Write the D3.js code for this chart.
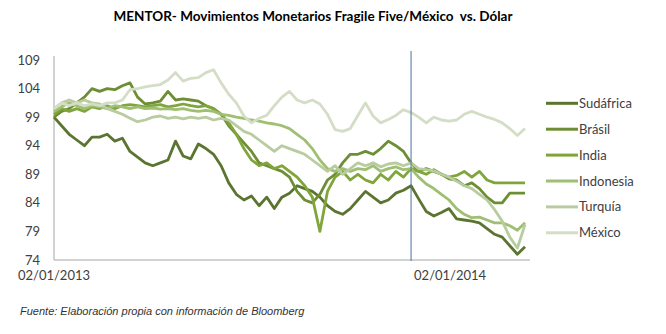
<!DOCTYPE html>
<html>
<head>
<meta charset="utf-8">
<script src="https://cdn.jsdelivr.net/npm/d3@7"></script>
<style>
  body { margin: 0; background: #fff; }
  svg { display: block; }
</style>
</head>
<body>
<svg id="chart"></svg>
<script>
// Weekly index values (currency vs. dollar)
const names = ["Sudáfrica", "Brásil", "India", "Indonesia", "Turquía", "México"];
const colors = ["#5b7530", "#6d8e35", "#7fa53b", "#9fbf72", "#b9cca0", "#d4ddc6"];

const sudafrica = [99, 97.5, 96, 95, 94, 95.5, 95.5, 96, 94.8, 95.3, 93, 92, 91, 90.5, 91, 91.5, 94.8, 92.2, 91.7, 94.3,
  93.5, 92.5, 90.5, 87.5, 85.5, 84.5, 85.2, 83.5, 85, 83, 85, 85.7, 87, 86.5, 86, 85, 83.5, 82.5, 82, 83,
  84.5, 86, 85, 84, 84.5, 85.7, 86.2, 87, 84.7, 82.5, 81.7, 82.3, 83, 81.2, 81, 80.8, 80.5, 79.5, 78.5, 78,
  76.5, 75, 76.3];
const brasil = [99, 100, 100.5, 101.5, 102.5, 104, 103.5, 104, 103.8, 104.5, 105, 102.5, 101.3, 101.5, 101.8, 103.5, 102, 102.2, 102, 101.8,
  101, 100.5, 99.5, 97.5, 96, 94.5, 93, 91, 90.5, 90, 89.5, 88.5, 86, 84.5, 84, 85.5, 88, 89, 91, 92.5,
  92.5, 93, 92.5, 93.5, 94.8, 94, 93, 91, 89.5, 90, 89.5, 89, 88.2, 88, 87, 87.5, 86.5, 85, 84, 84,
  85.7, 85.7, 85.7];
const india = [99.5, 100.5, 100, 100.5, 100, 100.8, 100.5, 101, 100.5, 101, 101.2, 101, 100.8, 101, 101.2, 100.8, 101, 101.3, 101, 100.8,
  101, 100.5, 99.5, 98, 96, 93.5, 91.5, 90.5, 91, 90, 90.5, 89.5, 88.5, 87, 85, 79, 86, 88.5, 89.5, 88,
  89, 88, 87.5, 89, 88, 89.5, 88.5, 90, 89.5, 89, 89.8, 89, 88.5, 88.8, 89.5, 88.5, 89.5, 88, 87.5, 87.5,
  87.5, 87.5, 87.5];
const indonesia = [100, 100.8, 101.5, 101, 100.5, 101, 100.8, 100.5, 101, 100.8, 100.5, 100.8, 100.5, 100.6, 100.4, 100.5, 100.3, 100.5, 100.2, 100,
  100.2, 100, 99.5, 99.3, 99, 98.8, 98.5, 98.3, 98, 97.8, 97.5, 97, 96, 95, 93.5, 91.5, 90, 89.5, 90, 89.5,
  90, 89.8, 90.5, 89.5, 90, 90.3, 89.8, 90, 88.5, 87.3, 86.5, 85.5, 84.5, 83, 82, 81.4, 81.5, 81, 80.5, 80.5,
  80, 79.2, 80.5];
const turquia = [100.5, 101.5, 102, 101.5, 102, 101.5, 101.3, 100.5, 100, 99.5, 98.8, 98.2, 98.5, 99, 99.2, 98.8, 99, 98.7, 99, 98.8,
  99, 98.5, 98.8, 98.5, 97.5, 96.5, 96, 95, 94, 93, 94, 93.5, 93, 92.5, 91.5, 90.5, 89.5, 90.5, 89, 90,
  91, 90.5, 91, 90.3, 90.8, 91, 90.5, 91, 90, 89.8, 89.6, 89, 88.5, 87.8, 87, 86.5, 85.5, 84.5, 82.8, 80.8,
  78, 76.1, 80.2];
const mexico = [100.5, 101.5, 101, 101.5, 101, 101.3, 101, 101.5, 101.5, 102, 103.8, 104, 104.3, 104.5, 104.7, 105.5, 106.8, 105.3, 105.8, 105.9,
  106.8, 107.3, 105, 103, 101.5, 99.2, 98, 98.8, 99.3, 101, 102.5, 103.5, 102, 101.5, 102, 101.3, 99.5, 96.8, 96.5, 97,
  99.3, 101.5, 99.2, 98, 98.6, 99.3, 100.3, 99.8, 99, 98, 99, 98.5, 98.3, 98.5, 99.5, 100, 99.5, 99, 98.6, 98,
  97, 95.8, 97];

const yTicks = [74, 79, 84, 89, 94, 99, 104, 109];
const xTickLabels = ["02/01/2013", "02/01/2014"];
const xTickDates = ["2013-01-02", "2014-01-02"];
const markerDate = "2013-11-27";
const startDate = "2013-01-02";

const series = [sudafrica, brasil, india, indonesia, turquia, mexico];

const width = 666, height = 334;
const parse = d3.timeParse("%Y-%m-%d");
const start = parse(startDate);
const dates = d3.range(sudafrica.length).map(i => d3.timeDay.offset(start, 7 * i));

const svg = d3.select("#chart").attr("width", width).attr("height", height);
svg.append("rect").attr("width", width).attr("height", height).attr("fill", "#fff");

const x = d3.scaleTime()
    .domain([start, dates[dates.length - 1]])
    .range([54, 525]);
const y = d3.scaleLinear().domain([74, 109]).range([260, 60]);

const font = "Lato, 'Open Sans', sans-serif";

// title
svg.append("text")
    .attr("x", 313).attr("y", 21)
    .attr("text-anchor", "middle")
    .style("font-family", font)
    .style("font-size", "13.5px")
    .style("font-weight", "bold")
    .style("fill", "#000")
    .text("MENTOR- Movimientos Monetarios Fragile Five/México\u00a0\u00a0vs. Dólar");

// axes lines
svg.append("line")
    .attr("x1", 54).attr("x2", 54).attr("y1", 56).attr("y2", y(74))
    .attr("stroke", "#a6a6a6").attr("stroke-width", 1);
svg.append("line")
    .attr("x1", 54).attr("x2", 530).attr("y1", y(74)).attr("y2", y(74))
    .attr("stroke", "#a6a6a6").attr("stroke-width", 1);

// y tick labels
svg.append("g").selectAll("text")
    .data(yTicks)
    .join("text")
    .attr("x", 40)
    .attr("y", d => y(d))
    .attr("dy", "0.35em")
    .attr("text-anchor", "end")
    .style("font-family", font)
    .style("font-size", "13px")
    .style("fill", "#404040")
    .text(d => d);

// x tick labels
svg.append("g").selectAll("text")
    .data(xTickLabels)
    .join("text")
    .attr("x", (d, i) => x(parse(xTickDates[i])))
    .attr("y", 280)
    .attr("text-anchor", "middle")
    .style("font-family", font)
    .style("font-size", "13px")
    .style("fill", "#404040")
    .text(d => d);

// lines
const line = d3.line()
    .x((d, i) => x(dates[i]))
    .y(d => y(d));

svg.append("g").selectAll("path")
    .data(series)
    .join("path")
    .attr("fill", "none")
    .attr("stroke", (d, i) => colors[i])
    .attr("stroke-width", 2.8)
    .attr("stroke-linejoin", "round")
    .attr("d", line);

// vertical marker
svg.append("line")
    .attr("x1", x(parse(markerDate))).attr("x2", x(parse(markerDate)))
    .attr("y1", 51).attr("y2", y(74) + 1)
    .attr("stroke", "#4a6fa5").attr("stroke-width", 1);

// legend
const legend = svg.append("g").selectAll("g")
    .data(names)
    .join("g")
    .attr("transform", (d, i) => `translate(546, ${103.3 + i * 25.9})`);
legend.append("line")
    .attr("x1", 0).attr("x2", 32)
    .attr("stroke", (d, i) => colors[i])
    .attr("stroke-width", 3);
legend.append("text")
    .attr("x", 33)
    .attr("dy", "0.35em")
    .style("font-family", font)
    .style("font-size", "13px")
    .style("fill", "#404040")
    .text(d => d);

// source note
svg.append("text")
    .attr("x", 20).attr("y", 315)
    .style("font-family", "'Liberation Sans', Arial, sans-serif")
    .style("font-size", "11px")
    .style("font-style", "italic")
    .style("fill", "#333")
    .text("Fuente: Elaboración propia con información de Bloomberg");
</script>
</body>
</html>
